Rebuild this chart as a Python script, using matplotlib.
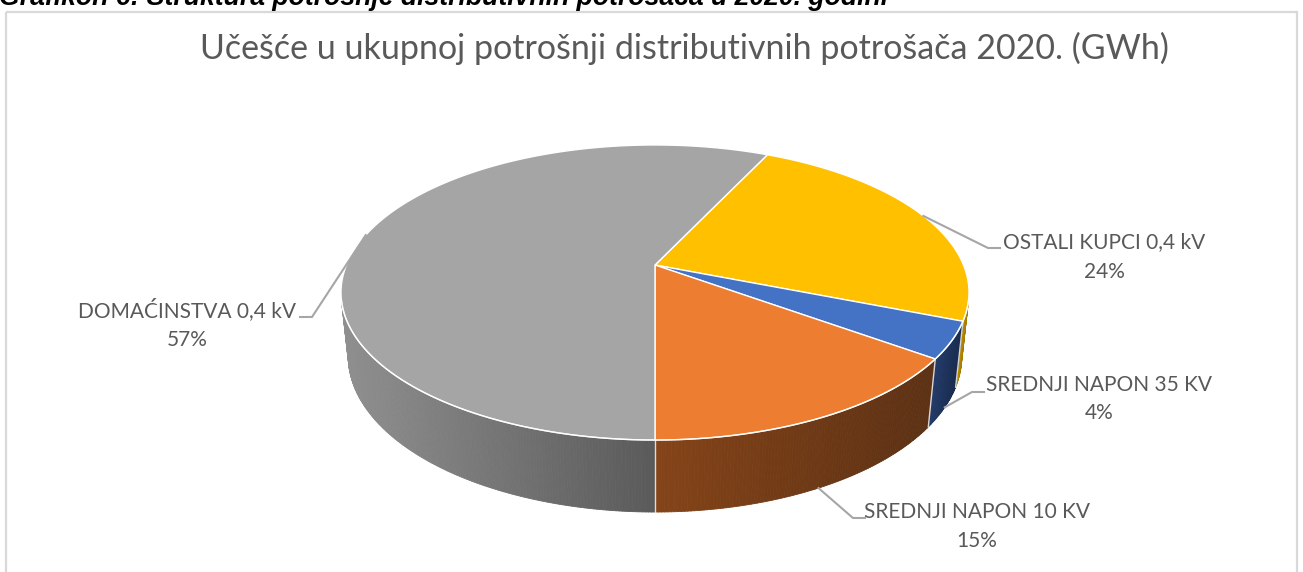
import numpy as np
import matplotlib
matplotlib.use('Agg')
import matplotlib.pyplot as plt
from matplotlib.collections import PolyCollection
from matplotlib.patches import Polygon, Rectangle
from matplotlib.colors import to_rgb

# ---------------- data ----------------
categories = ['OSTALI KUPCI 0,4 kV', 'SREDNJI NAPON 35 KV',
              'SREDNJI NAPON 10 KV', 'DOMAĆINSTVA 0,4 kV']
values = [24, 4, 15, 57]
title = 'Učešće u ukupnoj potrošnji distributivnih potrošača 2020. (GWh)'
caption = 'Grafikon 6: Struktura potrošnje distributivnih potrošača u 2020. godini'

# ---------------- style ----------------
top_colors = ['#FFC000', '#4472C4', '#ED7D31', '#A5A5A5']
side_light = ['#b98c00', '#223a68', '#854418', '#8f8f8f']
side_dark = ['#a07800', '#1a2b4d', '#5c3114', '#5a5a5a']
text_color = '#595959'
lead_color = '#A6A6A6'
FONT = 'Lato'

# label layout (text centre x, line1 y, line2 y, elbow x, elbow y, end x)
label_layout = [
    (1104, 242, 272, 988, 248, 1000),
    (1099, 385, 413, 972, 392, 984),
    (977, 512, 541, 853, 518, 865),
    (187, 310, 340, 312, 317, 300),
]

# projection parameters (3D tilt with perspective)
CX, CY = 655, 265
F = 1467.8
T = np.radians(27.49)
D = 4.758
H = 0.2346
START = 25.2  # degrees clockwise from back
s, c = np.sin(T), np.cos(T)


def proj(X, Y, Z):
    v = Y * s - Z * c
    d = D - Y * c - Z * s
    return CX + F * X / d, CY + F * v / d


def rim(phi_deg, Z):
    p = np.radians(phi_deg)
    return proj(np.sin(p), -np.cos(p), Z)


fig = plt.figure(figsize=(13.03, 5.72), dpi=100)
ax = fig.add_axes([0, 0, 1, 1])
ax.set_xlim(0, 1303)
ax.set_ylim(572, 0)
ax.axis('off')

# chart border
ax.add_patch(Rectangle((6, 12), 1291, 600, fill=False, edgecolor='#D9D9D9', lw=1.6))

# caption (cut at the top, as in the source page)
ax.text(-1, 5, caption, fontsize=19.2, fontweight='bold', style='italic',
        family='Liberation Sans', color='black', ha='left', va='baseline')

# title
ax.text(684, 48, title, fontsize=24.5, family=FONT, color=text_color,
        ha='center', va='center')

total = float(sum(values))
bounds = [START]
for v in values:
    bounds.append(bounds[-1] + 360.0 * v / total)

vis_lo = np.degrees(np.arccos(-1.0 / (D * c)))  # visible side range
vis_hi = 360 - vis_lo

# ---- side faces ----
seams = []
for i in range(len(values)):
    a0, a1 = bounds[i], bounds[i + 1]
    segs = []
    for off in (0, 360, -360):
        lo = max(a0 + off, vis_lo)
        hi = min(a1 + off, vis_hi)
        if hi > lo:
            segs.append((lo, hi))
    for lo, hi in segs:
        phis = np.linspace(lo, hi, max(int((hi - lo) * 2), 2))
        xs_top = [rim(p, 0)[0] for p in phis]
        xmin, xmax = min(xs_top), max(xs_top)
        quads, cols = [], []
        cl, cd = np.array(to_rgb(side_light[i])), np.array(to_rgb(side_dark[i]))
        for p0, p1 in zip(phis[:-1], phis[1:]):
            q = [rim(p0, 0), rim(p1, 0), rim(p1, -H), rim(p0, -H)]
            xm = (q[0][0] + q[1][0]) / 2
            tt = (xm - xmin) / (xmax - xmin) if xmax > xmin else 0
            quads.append(q)
            cols.append(cl * (1 - tt) + cd * tt)
        ax.add_collection(PolyCollection(quads, facecolors=cols, edgecolors=cols,
                                         linewidths=0.6, zorder=2))
        for p in (lo, hi):
            if vis_lo + 0.5 < p < vis_hi - 0.5:
                seams.append(p)

for p in set(seams):
    x0, y0 = rim(p, 0)
    x1, y1 = rim(p, -H)
    ax.plot([x0, x1], [y0, y1], color='white', lw=1.0, alpha=0.8, zorder=3)

# ---- top faces ----
for i in range(len(values)):
    a0, a1 = bounds[i], bounds[i + 1]
    phis = np.linspace(a0, a1, max(int((a1 - a0) * 2), 3))
    pts = [(CX, CY)] + [rim(p, 0) for p in phis]
    ax.add_patch(Polygon(pts, closed=True, facecolor=top_colors[i],
                         edgecolor='white', lw=1.0, zorder=4))

# white rim along front top edge
phis = np.linspace(vis_lo, vis_hi, 400)
pts = np.array([rim(p, 0) for p in phis])
ax.plot(pts[:, 0], pts[:, 1], color='white', lw=1.0, alpha=0.8, zorder=5)

# ---- labels with leader lines ----
for i in range(len(values)):
    mid = (bounds[i] + bounds[i + 1]) / 2
    Ymid = -np.cos(np.radians(mid))
    sx, sy = rim(mid, -H if Ymid > 0 else 0)
    tx, ty1, ty2, ex, ey, hx = label_layout[i]
    ax.plot([sx, ex, hx], [sy, ey, ey], color=lead_color, lw=1.5, zorder=6,
            solid_joinstyle='miter')
    pct = f'{round(100 * values[i] / total)}%'
    ax.text(tx, ty1, categories[i], fontsize=15, family=FONT, color=text_color,
            ha='center', va='center', zorder=7)
    ax.text(tx, ty2, pct, fontsize=15, family=FONT, color=text_color,
            ha='center', va='center', zorder=7)

fig.savefig('out.png', dpi=100, facecolor='white')
